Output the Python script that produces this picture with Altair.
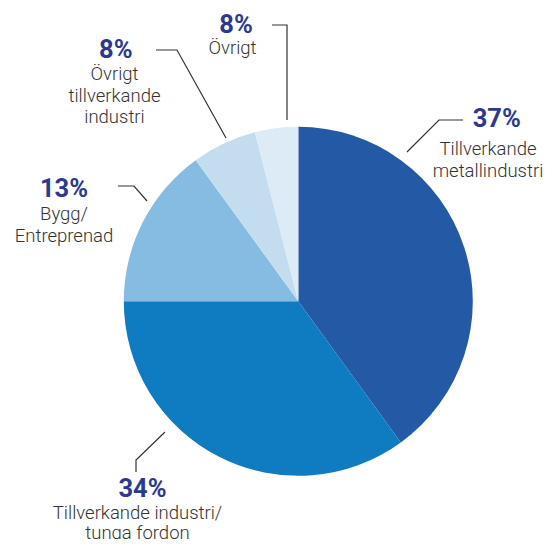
import altair as alt
import pandas as pd

categories = ["Tillverkande metallindustri", "Tillverkande industri/tunga fordon",
              "Bygg/Entreprenad", "Övrigt tillverkande industri", "Övrigt"]
values = [40, 35, 15, 6, 4]
pct_labels = ["37%", "34%", "13%", "8%", "8%"]
sub_labels = ["Tillverkande\nmetallindustri", "Tillverkande industri/\ntunga fordon",
              "Bygg/\nEntreprenad", "Övrigt\ntillverkande\nindustri", "Övrigt"]
colors = ["#2359a5", "#0f7bc0", "#86bce1", "#c3ddef", "#dcebf6"]

# ---- layout (page pixel coordinates, annotations only) ----
W, H = 538, 531
OFF = 8
center = (298.3, 301.3)
radius = 174.5
pct_x = [496.7, 142.5, 64.0, 115.8, 236.0]
sub_x = [488.0, 137.5, 64.0, 114.5, 232.5]
pct_y = [126.7, 497.0, 196.7, 58.3, 33.0]
sub_y = [155.0, 518.5, 220.0, 80.0, 53.5]
sub_lh = [21.5, 20.5, 21.5, 21.5, 21.5]
leaders = [
    [(407, 152), (439, 120), (463, 120)],
    [(165, 432), (136, 460), (136, 472)],
    [(147, 201), (134, 186), (118, 186)],
    [(226, 138), (177, 50), (156, 50)],
    [(287, 120), (287, 25), (272, 25)],
]

pie_df = pd.DataFrame({"cat": categories, "val": values, "idx": range(len(values))})

lab_df = pd.DataFrame({
    "px": [v - OFF for v in pct_x],
    "sx": [v - OFF for v in sub_x],
    "py": [v - OFF for v in pct_y],
    "sy": [v - OFF for v in sub_y],
    "pct": pct_labels,
    "sub": sub_labels,
})

seg_rows = []
for i, pts in enumerate(leaders):
    for j, (px, py) in enumerate(pts):
        seg_rows.append({"g": i, "o": j, "x": px - OFF, "y": py - OFF})
seg_df = pd.DataFrame(seg_rows)

xs = alt.Scale(domain=[0, W], range=[0, W])
ys = alt.Scale(domain=[0, H], range=[0, H])

pie = alt.Chart(pie_df).mark_arc(radius=radius, stroke=None).encode(
    theta=alt.Theta("val:Q", stack=True),
    order=alt.Order("idx:Q"),
    color=alt.Color("cat:N", scale=alt.Scale(domain=categories, range=colors), legend=None),
    x=alt.value(center[0] - OFF),
    y=alt.value(center[1] - OFF),
)

lines = alt.Chart(seg_df).mark_line(color="#333333", strokeWidth=1.2).encode(
    x=alt.X("x:Q", scale=xs, axis=None),
    y=alt.Y("y:Q", scale=ys, axis=None),
    detail="g:N",
    order="o:Q",
)

pct = alt.Chart(lab_df).mark_text(
    font="Roboto", fontSize=25.5, fontWeight="bold", color="#2b3990",
    align="center", baseline="alphabetic",
).encode(
    x=alt.X("px:Q", scale=xs, axis=None),
    y=alt.Y("py:Q", scale=ys, axis=None),
    text="pct:N",
)

sub_layers = []
for i in range(len(sub_labels)):
    sub_layers.append(
        alt.Chart(lab_df.iloc[[i]]).mark_text(
            font="Roboto", fontSize=18.5, fontWeight=300, color="#333333",
            align="center", baseline="alphabetic", lineBreak="\n", lineHeight=sub_lh[i],
        ).encode(
            x=alt.X("sx:Q", scale=xs, axis=None),
            y=alt.Y("sy:Q", scale=ys, axis=None),
            text="sub:N",
        )
    )

chart = alt.layer(pie, lines, pct, *sub_layers).properties(
    width=W, height=H, padding=0,
    autosize=alt.AutoSizeParams(type="none"),
).configure_view(stroke=None)

chart.save("out.html", embed_options={"renderer": "svg", "actions": False})
